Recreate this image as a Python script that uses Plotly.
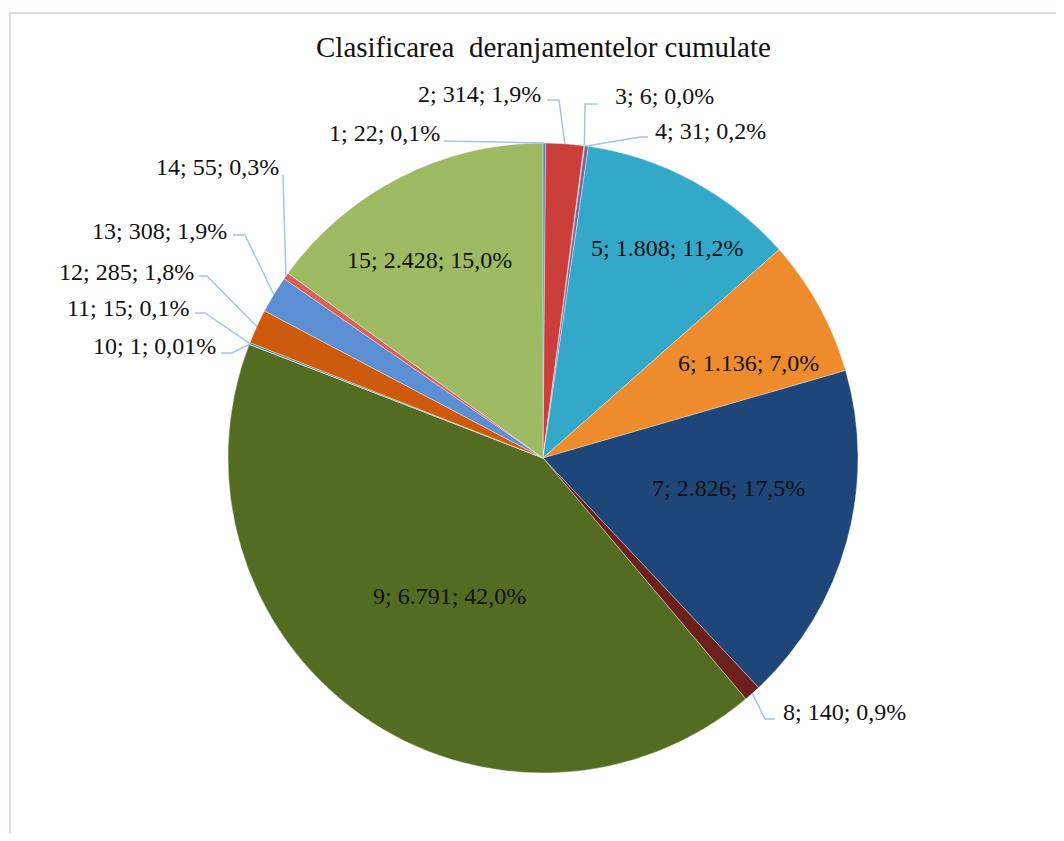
import math

import plotly.graph_objects as go

# data
categories = [str(i) for i in range(1, 16)]
values = [22, 314, 6, 31, 1808, 1136, 2826, 140, 6791, 1, 15, 285, 308, 55, 2428]
value_text = ["22", "314", "6", "31", "1.808", "1.136", "2.826", "140", "6.791",
              "1", "15", "285", "308", "55", "2.428"]
pct_text = ["0,1%", "1,9%", "0,0%", "0,2%", "11,2%", "7,0%", "17,5%", "0,9%", "42,0%",
            "0,01%", "0,1%", "1,8%", "1,9%", "0,3%", "15,0%"]

# excel-ish theme colours (gradients flattened to mid tone)
COLORS = ["#4F81BD", "#CB3F3B", "#9BBB59", "#8064A2", "#33A8C8", "#EE8B2C",
          "#1E4678", "#6C1F1B", "#536C22", "#5F4879", "#31859C", "#CE5A0E",
          "#5B8ED2", "#D6625E", "#9EBA62"]

TITLE = "Clasificarea\u00a0 deranjamentelor cumulate"

# page geometry (browser body has an 8px margin)
W, H, OFF = 1048, 825, 8
CX, CY, R = 543, 458, 315   # pie centre / radius in screen px


def px(x, y):
    return (x - OFF) / W, 1 - (y - OFF) / H


# label placement in screen px: (x, y, xanchor, leader start, leader elbow)
LABELS = {
    0: (442, 133, "right", (444, 141), (444, 141)),
    1: (543, 94, "right", (547, 100), (559, 100)),
    2: (613, 96, "left", (597, 104), (585, 104)),
    3: (653, 131, "left", (648, 137), (640, 137)),
    4: (667, 248, "center", None, None),
    5: (748, 363, "center", None, None),
    6: (728, 488, "center", None, None),
    7: (781, 712, "left", (775, 719), (765, 719)),
    8: (449, 596, "center", None, None),
    9: (218, 346, "right", (221, 353), (232, 353)),
    10: (191, 308, "right", (195, 313), (205, 313)),
    11: (196, 272, "right", (199, 276), (207, 276)),
    12: (229, 231, "right", (233, 235), (245, 235)),
    13: (281, 167, "right", (283, 175), (283, 175)),
    14: (429, 260, "center", None, None),
}

FONT = "Liberation Serif, Times New Roman, serif"

d0, d1 = (CX - R - OFF) / W, (CX + R - OFF) / W
e0, e1 = 1 - (CY + R - OFF) / H, 1 - (CY - R - OFF) / H

fig = go.Figure(
    go.Pie(
        labels=categories,
        values=values,
        sort=False,
        direction="clockwise",
        rotation=0,
        textinfo="none",
        hoverinfo="label+value+percent",
        marker=dict(colors=COLORS, line=dict(color="rgba(255,255,255,0.6)", width=0.6)),
        domain=dict(x=[d0, d1], y=[e0, e1]),
        showlegend=False,
    )
)

total = sum(values)
shapes = []
annotations = []
cum = 0
for i, v in enumerate(values):
    mid = (cum + v / 2) / total * 2 * math.pi
    cum += v
    lx, ly, anchor, start, elbow = LABELS[i]
    ax, ay = px(lx, ly)
    annotations.append(dict(
        x=ax, y=ay, xref="paper", yref="paper", showarrow=False,
        text=f"{categories[i]}; {value_text[i]}; {pct_text[i]}",
        xanchor=anchor, yanchor="middle",
        font=dict(family=FONT, size=24, color="#111111"),
    ))
    if start is not None:
        # leader line ends at the slice edge, at the slice mid-angle
        tx = CX + R * math.sin(mid)
        ty = CY - R * math.cos(mid)
        pts = [px(*start), px(*elbow), px(tx, ty)]
        path = "M {} {} L {} {} L {} {}".format(*[c for p in pts for c in p])
        shapes.append(dict(type="path", path=path, xref="paper", yref="paper",
                           line=dict(color="#A3C4EC", width=1.5)))

# chart-area border (cut off by the screenshot on right and bottom)
bx, by = px(10, 13)
shapes.append(dict(type="rect", xref="paper", yref="paper", x0=bx, y0=-0.1, x1=1.1, y1=by,
                   line=dict(color="#D3DFF1", width=2)))

tx, ty = px(543, 47)
annotations.append(dict(
    x=tx, y=ty, xref="paper", yref="paper", showarrow=False, text=TITLE,
    xanchor="center", yanchor="middle",
    font=dict(family=FONT, size=29, color="#111111"),
))

fig.update_layout(
    width=W, height=H,
    margin=dict(l=0, r=0, t=0, b=0),
    paper_bgcolor="white",
    plot_bgcolor="white",
    shapes=shapes,
    annotations=annotations,
)

fig.write_html("out.html")
